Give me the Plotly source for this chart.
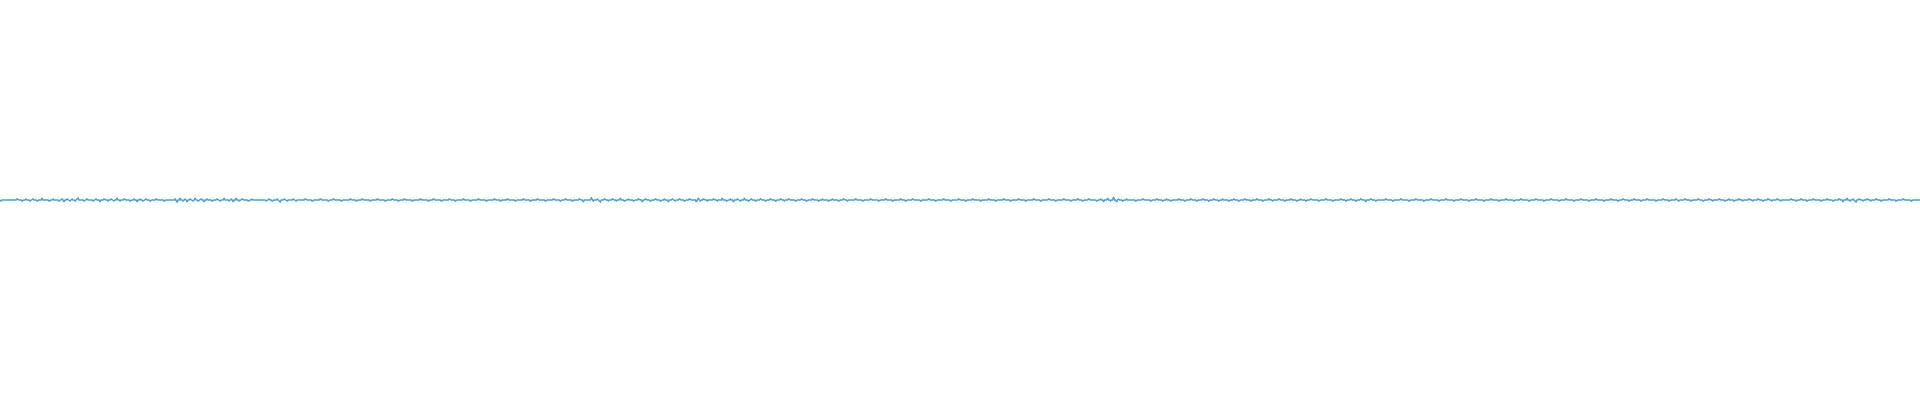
import plotly.graph_objects as go

# Sample count across the trace
n_samples = 1920

# Sparse excursions from the baseline: (sample index, deviation)
spikes = [
    (1,-1),(17,1),(22,-1),(26,1),(30,-1),(33,1),(37,-1),(42,2),(49,-1),(53,1),(59,-1),(62,1),
    (64,-2),(67,1),(70,-1),(72,1),(75,-1),(78,2),(84,-1),(87,1),(93,-1),(96,1),(100,-2),(104,1),
    (108,-1),(111,1),(114,-1),(117,2),(120,-1),(124,1),(130,-1),(134,1),(137,-2),(140,1),(143,-1),
    (146,1),(150,-1),(156,1),(164,-1),(175,1),(177,-2),(180,2),(183,-1),(185,1),(187,-2),(190,1),
    (193,-1),(195,2),(198,-1),(201,1),(204,-2),(207,1),(212,-1),(217,1),(220,-1),(224,2),(229,-1),
    (231,1),(233,-2),(236,2),(239,-1),(242,1),(248,-1),(252,1),(266,-1),(269,1),(272,-1),(277,1),
    (280,-2),(284,1),(287,-1),(293,1),(296,-1),
    (305,1),(312,-1),(320,1),(328,-1),(333,1),(341,-1),(350,1),(356,-1),(362,1),(370,-1),(377,1),
    (385,-1),(392,1),(398,-1),(404,1),(412,-1),(420,1),(428,-1),(433,1),(441,-1),(449,1),(455,-1),
    (463,1),(470,-1),(478,1),(486,-1),(494,1),(500,-1),(507,1),(515,-1),(523,1),(530,-1),(537,1),
    (545,-1),
    (553,1),(560,-1),(565,1),(572,-1),(579,1),(583,-2),(591,2),(593,-1),(597,1),(600,-2),(604,1),
    (608,-1),(612,1),(616,-1),(620,2),(624,-1),(628,1),(633,-1),(638,1),(642,-2),(645,1),(650,-1),
    (655,1),(660,-1),(664,1),(668,-2),(672,1),(675,-1),(679,1),(684,-1),(689,1),(696,-2),(698,2),
    (700,-1),(703,1),(707,-1),(713,1),(717,-1),(722,2),(726,-1),(730,1),(733,-2),(737,1),(740,-1),
    (744,2),(748,-1),(751,1),(755,-1),(760,1),(765,-1),(770,1),(775,-1),(780,1),(784,-1),(788,1),
    (795,-1),(801,1),(806,-1),(812,1),(818,-1),(822,1),(828,-1),(832,1),(838,-1),(843,1),(847,-1),
    (855,1),(862,-1),(870,1),(878,-1),(885,1),(892,-1),(900,1),(905,-1),(912,1),(920,-1),(928,1),
    (935,-1),(943,1),(950,-1),(958,1),(965,-1),(972,1),(980,-1),(988,1),(995,-1),(1003,1),(1010,-1),
    (1018,1),(1025,-1),(1033,1),(1040,-1),(1048,1),(1055,-1),(1063,1),(1070,-1),(1077,1),
    (1082,-1),(1088,1),(1096,-1),(1100,1),(1103,-2),(1107,2),(1110,-1),(1113,3),(1116,-2),(1118,1),
    (1122,-1),(1126,1),(1135,-1),(1142,1),(1150,-1),(1156,1),(1162,-1),(1166,1),(1170,-1),(1178,1),
    (1184,-1),(1190,1),(1196,-1),(1202,1),(1208,-1),(1213,1),(1218,-1),(1222,1),(1228,-1),(1233,1),
    (1238,-1),(1244,1),(1250,-1),(1256,1),(1262,-1),(1268,1),(1272,-1),(1278,1),(1284,-1),(1290,1),
    (1296,-1),(1300,1),(1305,-1),(1310,1),(1318,-1),(1325,1),(1332,-1),(1340,1),(1345,-1),(1350,1),
    (1355,-1),(1360,1),(1365,-2),(1370,1),(1375,-1),
    (1385,1),(1392,-1),(1400,1),(1408,-1),(1415,1),(1423,-1),(1430,1),(1438,-1),(1445,1),(1453,-1),
    (1460,1),(1468,-1),(1475,1),(1483,-1),(1490,1),(1498,-1),(1505,1),(1513,-1),(1520,1),(1528,-1),
    (1535,1),(1543,-1),(1550,1),(1558,-1),(1565,1),(1573,-1),(1580,1),(1588,-1),(1595,1),(1603,-1),
    (1610,1),(1617,-1),
    (1622,1),(1628,-1),(1633,1),(1640,-1),(1646,1),(1655,-1),(1662,1),(1668,-1),(1675,1),(1678,-1),
    (1684,1),(1690,-1),(1697,1),(1702,-1),(1708,1),(1712,-1),(1718,1),(1724,-1),(1728,1),(1733,-1),
    (1738,1),(1742,-1),(1748,1),(1752,-1),(1757,1),(1762,-1),(1767,1),(1771,-1),(1776,1),(1780,-1),
    (1790,1),(1795,-1),(1800,1),(1806,-1),(1812,1),(1820,-1),(1826,1),(1832,-1),(1838,1),(1842,-2),
    (1846,2),(1849,-1),(1852,1),(1855,-2),(1858,1),(1862,-1),(1866,1),(1870,-1),(1875,1),(1880,-1),
    (1888,1),(1895,-1),(1902,1),(1910,-1),
]

# Full series: baseline 0 with the excursions above
values = [0] * n_samples
for i, v in spikes:
    values[i] = v
index = list(range(n_samples))

fig = go.Figure(go.Scatter(
    x=index, y=values, mode="lines",
    line=dict(color="rgb(64,162,232)", width=1.5),
    hoverinfo="skip",
))
fig.update_layout(
    width=1920, height=400,
    margin=dict(l=0, r=0, t=0, b=0),
    paper_bgcolor="white", plot_bgcolor="white",
    showlegend=False,
    xaxis=dict(visible=False, range=[0, n_samples - 1]),
    yaxis=dict(visible=False, range=[-200, 200]),
)
fig.write_html("out.html", config={"displayModeBar": False},
               post_script="document.body.style.margin='0';document.body.style.overflow='hidden';")
